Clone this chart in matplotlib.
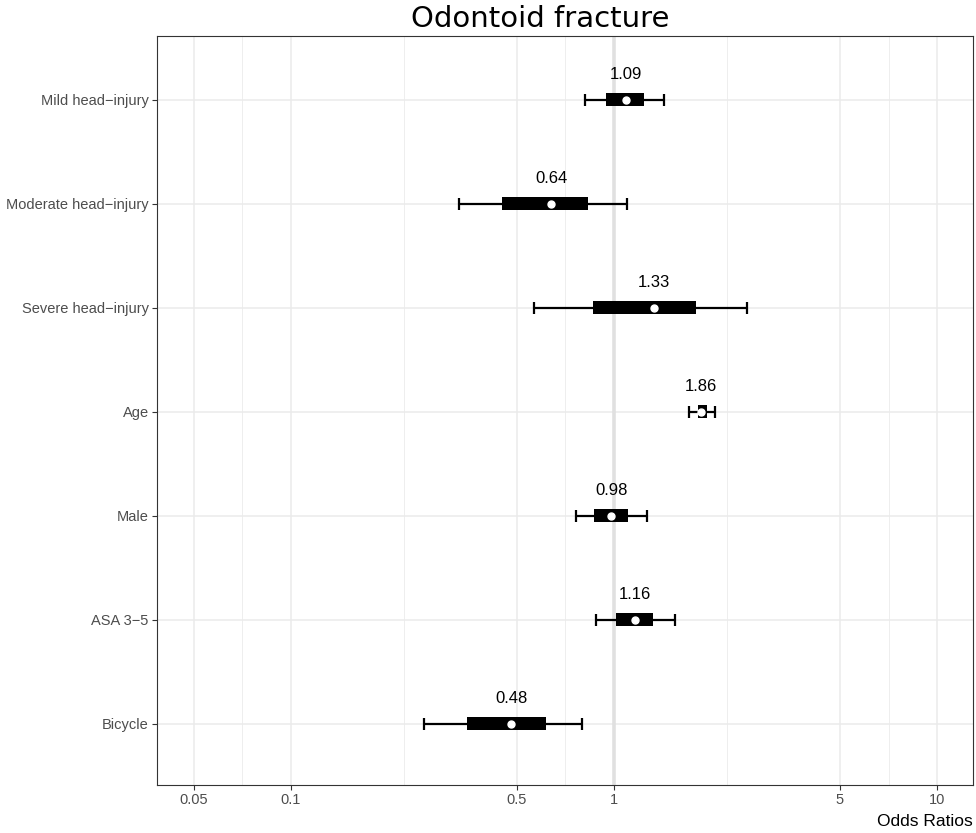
import matplotlib
matplotlib.use("Agg")
import matplotlib.pyplot as plt
import numpy as np

# odds ratios, inner interval (box) and 95% CI (whiskers), top to bottom
labels = ["Mild head\u2212injury", "Moderate head\u2212injury", "Severe head\u2212injury",
          "Age", "Male", "ASA 3\u22125", "Bicycle"]
odds = [1.09, 0.64, 1.33, 1.86, 0.98, 1.16, 0.48]
ci_low = [0.81, 0.33, 0.565, 1.71, 0.76, 0.88, 0.258]
ci_high = [1.43, 1.10, 2.58, 2.05, 1.26, 1.545, 0.796]
box_low = [0.945, 0.45, 0.86, 1.82, 0.867, 1.014, 0.351]
box_high = [1.24, 0.83, 1.79, 1.94, 1.105, 1.32, 0.616]
value_text = ["1.09", "0.64", "1.33", "1.86", "0.98", "1.16", "0.48"]

major_ticks = [0.05, 0.1, 0.5, 1, 5, 10]
major_text = ["0.05", "0.1", "0.5", "1", "5", "10"]

fig = plt.figure(figsize=(9.76, 8.33), dpi=100)
ax = fig.add_axes([157 / 976, 48 / 833, 816 / 976, 749 / 833])
ax.set_xscale("log")
ax.set_xlim(0.0385, 12.9)
ax.set_ylim(0.41, 7.615)

ypos = np.arange(len(labels), 0, -1)

# grid: minor lines halfway between major breaks (log space)
minor = [np.sqrt(a * b) for a, b in zip(major_ticks[:-1], major_ticks[1:])]
for m in minor:
    ax.axvline(m, color="#EBEBEB", lw=0.6, zorder=0)
for t in major_ticks:
    ax.axvline(t, color="#EBEBEB", lw=1.1, zorder=0)
for y in ypos:
    ax.axhline(y, color="#EBEBEB", lw=1.1, zorder=0)
ax.axvline(1, color="#E0E0E0", lw=2.6, zorder=0.5)

for y, o, lo, hi, blo, bhi, txt in zip(ypos, odds, ci_low, ci_high, box_low, box_high, value_text):
    ax.errorbar(o, y, xerr=[[o - lo], [hi - o]], fmt="none", ecolor="black",
                elinewidth=1.6, capsize=4, capthick=1.6, zorder=2)
    ax.barh(y, bhi - blo, left=blo, height=0.125, color="black", zorder=3)
    ax.plot(o, y, "o", color="white", ms=5, mec="white", zorder=4)
    ax.text(o, y + 0.24, txt, ha="center", va="center", fontsize=12,
            family="Liberation Sans", color="black")

ax.set_xticks(major_ticks)
ax.set_xticklabels(major_text)
ax.xaxis.set_minor_locator(matplotlib.ticker.NullLocator())
ax.set_yticks(ypos)
ax.set_yticklabels(labels)
for lab in ax.get_xticklabels() + ax.get_yticklabels():
    lab.set_family("Liberation Sans")
    lab.set_fontsize(10.5)
    lab.set_color("#4D4D4D")
ax.tick_params(axis="both", color="#333333", length=3.5, width=0.8, pad=2.5)
for s in ax.spines.values():
    s.set_color("#333333")
    s.set_linewidth(0.8)

fig.text(973 / 976, 4 / 833, "Odds Ratios", ha="right", va="bottom",
         fontsize=12.5, family="Liberation Sans")
fig.text(540 / 976, 1 - 19 / 833, "Odontoid fracture", ha="center", va="center",
         fontsize=21)

fig.savefig("out.png", dpi=100)
